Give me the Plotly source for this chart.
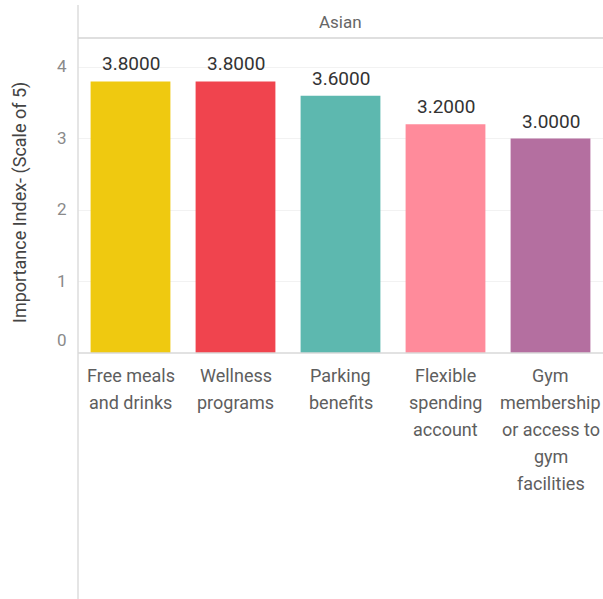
import plotly.graph_objects as go

# Benefit categories and their average importance score (Asian respondents)
categories = [
    "Free meals and drinks",
    "Wellness programs",
    "Parking benefits",
    "Flexible spending account",
    "Gym membership or access to gym facilities",
]
label_lines = [
    ["Free meals", "and drinks"],
    ["Wellness", "programs"],
    ["Parking", "benefits"],
    ["Flexible", "spending", "account"],
    ["Gym", "membership", "or access to", "gym", "facilities"],
]
scores = [3.8, 3.8, 3.6, 3.2, 3.0]
colors = ["#EFC910", "#F0444E", "#5DB8AF", "#FF8B9B", "#B46FA0"]
y_ticks = [0, 1, 2, 3, 4]
panel_title = "Asian"
y_title = "Importance Index- (Scale of 5)"

FONT = "Roboto"
W, H = 603, 599
ML, MT, MB = 78, 40, 246
plot_w = W - ML
plot_h = H - MT - MB

fig = go.Figure(
    go.Bar(
        x=categories,
        y=scores,
        marker=dict(color=colors, line=dict(width=0)),
        hoverinfo="skip",
    )
)

annotations = []

# value labels above each bar
for cat, v in zip(categories, scores):
    annotations.append(
        dict(
            x=cat, xref="x", y=v, yref="y",
            text=f"{v:.4f}", showarrow=False,
            xanchor="center", yanchor="bottom", yshift=4,
            font=dict(family=FONT, size=19, color="#333333"),
        )
    )

# multi-line category labels under each bar
for cat, lines in zip(categories, label_lines):
    for i, line in enumerate(lines):
        annotations.append(
            dict(
                x=cat, xref="x", y=0, yref="paper",
                text=line, showarrow=False,
                xanchor="center", yanchor="middle",
                yshift=-(22 + 27 * i),
                font=dict(family=FONT, size=18, color="#5E5E5E"),
            )
        )

# value-axis labels; the bottom one sits just above the baseline
for v in y_ticks:
    annotations.append(
        dict(
            x=0, xref="paper", y=v, yref="y",
            text=str(v), showarrow=False,
            xanchor="right", yanchor="middle",
            xshift=-9, yshift=13 if v == 0 else 1,
            font=dict(family=FONT, size=17, color="#8A8A8A"),
        )
    )

annotations.append(
    dict(
        x=(340 - ML) / plot_w, xref="paper", y=(plot_h + MT - 22) / plot_h, yref="paper",
        text=panel_title, showarrow=False, xanchor="center", yanchor="middle",
        font=dict(family=FONT, size=17, color="#666666"),
    )
)
annotations.append(
    dict(
        x=(20 - ML) / plot_w, xref="paper", y=(plot_h + MT - 203) / plot_h, yref="paper",
        text=y_title, showarrow=False, textangle=-90,
        xanchor="center", yanchor="middle",
        font=dict(family=FONT, size=18, color="#444444"),
    )
)

shapes = [
    # left divider running the full height
    dict(type="line", xref="paper", yref="paper",
         x0=0, x1=0, y0=-MB / plot_h, y1=(plot_h + MT - 5) / plot_h,
         line=dict(color="#DDDDDD", width=1.5)),
    # header rule under the panel title
    dict(type="line", xref="paper", yref="paper",
         x0=0, x1=1, y0=(plot_h + 2) / plot_h, y1=(plot_h + 2) / plot_h,
         line=dict(color="#D4D4D4", width=1.5)),
    # baseline
    dict(type="line", xref="paper", yref="paper",
         x0=0, x1=1, y0=0, y1=0,
         line=dict(color="#D8D8D8", width=1.5)),
]

fig.update_layout(
    width=W, height=H,
    margin=dict(l=ML, r=0, t=MT, b=MB, pad=0),
    paper_bgcolor="white", plot_bgcolor="white",
    bargap=0.24,
    showlegend=False,
    font=dict(family=FONT),
    xaxis=dict(showticklabels=False, showgrid=False, zeroline=False, showline=False,
               ticks=""),
    yaxis=dict(range=[0, 4.38], tickvals=y_ticks, showticklabels=False,
               showgrid=True, gridcolor="#F2F2F2", gridwidth=1,
               zeroline=False, showline=False, ticks=""),
    annotations=annotations,
    shapes=shapes,
)

fig.write_html("out.html")
